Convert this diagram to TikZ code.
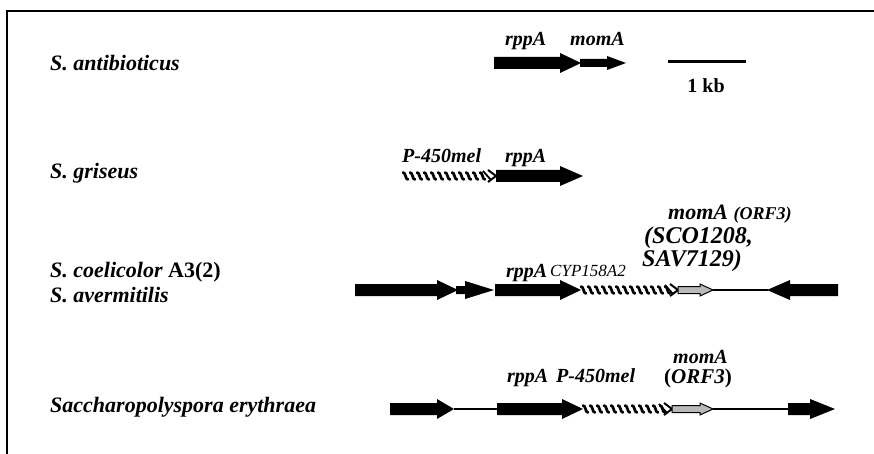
\documentclass[tikz,border=0pt]{standalone}
\usepackage{fontspec}
\setmainfont{Liberation Serif}
\newcommand{\genar}[6]{\fill (#1,#4-#5) -- (#2,#4-#5) -- (#2,#4-#6) -- (#3,#4) -- (#2,#4+#6) -- (#2,#4+#5) -- (#1,#4+#5) -- cycle;}
\newcommand{\greyar}[6]{\filldraw[fill=gray!55,draw=black,line width=1pt] (#1,#4-#5) -- (#2,#4-#5) -- (#2,#4-#6) -- (#3,#4) -- (#2,#4+#6) -- (#2,#4+#5) -- (#1,#4+#5) -- cycle;}
\newcommand{\hatchar}[3]{%
  \pgfmathsetmacro{\hend}{#2-10}%
  \pgfmathsetmacro{\hsec}{#1+7}%
  \foreach \hx in {#1,\hsec,...,\hend} {
    \draw[line width=2.7pt,line cap=round] (\hx,#3-3.5) .. controls (\hx+3,#3-3.5) and (\hx+2,#3+3.5) .. (\hx+5,#3+3.5);
  }
  \draw[line width=2pt] (#2-8,#3-6) -- (#2,#3) -- (#2-8,#3+6);
  \draw[line width=1.8pt] (#2-13,#3-5) -- (#2-5,#3+4);}
\tikzset{
  species/.style={anchor=base west,inner sep=0pt,font=\fontsize{22}{24}\selectfont\bfseries\itshape},
  genelab/.style={anchor=base west,inner sep=0pt,font=\fontsize{20}{22}\selectfont\bfseries\itshape},
  biglab/.style={anchor=base west,inner sep=0pt,font=\fontsize{24}{26}\selectfont\bfseries\itshape},
  smalllab/.style={anchor=base west,inner sep=0pt,font=\fontsize{17}{19}\selectfont\itshape},
  thinline/.style={line width=1.6pt}
}
\begin{document}
\begin{tikzpicture}[x=1pt,y=-1pt]
\useasboundingbox (0,0) rectangle (874,454);
\fill[white] (0,0) rectangle (874,454);
% frame
\draw[line width=2pt] (7,454) -- (7,11) -- (874,11);

% species labels
\node[species] (sp1) at (50,71) {S. antibioticus};
\node[species] (sp2) at (50,179) {S. griseus};
\node[species] (sp3) at (50,277) {S. coelicolor \upshape A3(2)};
\node[species] (sp4) at (50,302) {S. avermitilis};
\node[species] (sp5) at (50,412) {Saccharopolyspora erythraea};

% Row 1
\genar{494}{560}{581}{63}{6}{10}
\genar{580}{607}{626}{63}{4}{7}
\node[genelab] (r1a) at (505,46) {rppA};
\node[genelab] (r1b) at (570,46) {momA};
\coordinate (sbl) at (668,62);
\coordinate (sbr) at (746,62);
\draw[line width=3pt] (sbl) -- (sbr);
\node[inner sep=0pt,anchor=base,font=\fontsize{20}{22}\selectfont\bfseries] (kb) at (706,93) {1 kb};

% Row 2
\hatchar{403}{496}{176}
\genar{496}{560}{583}{176}{6}{10}
\node[genelab] (r2a) at (402,163) {P-450mel};
\node[genelab] (r2b) at (505,163) {rppA};

% Row 3
\genar{355}{437}{458}{290}{6}{10}
\genar{456}{465}{494}{290}{4}{9}
\genar{495}{560}{581}{290}{6}{10}
\hatchar{581}{678}{290}
\greyar{678}{700}{713}{290}{3.5}{6}
\coordinate (l3a) at (713,290);
\coordinate (l3b) at (768,290);
\draw[thinline] (l3a) -- (l3b);
\genar{838}{790}{767}{290}{6}{10}
\node[genelab] (r3a) at (506,277) {rppA};
\node[smalllab] (r3b) at (550,276) {CYP158A2};
\node[genelab,font=\fontsize{22}{24}\selectfont\bfseries\itshape] (r3c) at (668,219) {momA \fontsize{18}{20}\selectfont(ORF3)};
\node[biglab] (r3d) at (644,243) {(SCO1208,};
\node[biglab] (r3e) at (642,266) {SAV7129)};

% Row 4
\genar{390}{437}{454}{409}{6}{10}
\coordinate (l4a) at (454,409);
\coordinate (l4b) at (497,409);
\draw[thinline] (l4a) -- (l4b);
\genar{497}{562}{583}{409}{6}{10}
\hatchar{583}{672}{409}
\greyar{672}{700}{713}{409}{3.5}{6}
\coordinate (l4c) at (713,409);
\coordinate (l4d) at (790,409);
\draw[thinline] (l4c) -- (l4d);
\genar{788}{810}{835}{409}{6}{10}
\node[genelab] (r4a) at (507,382) {rppA};
\node[genelab] (r4b) at (556,382) {P-450mel};
\node[genelab] (r4c) at (673,363) {momA};
\node[genelab,font=\fontsize{21}{23}\selectfont\bfseries\itshape] (r4d) at (664,383) {\upshape(\itshape ORF3\upshape)};
\end{tikzpicture}
\end{document}
